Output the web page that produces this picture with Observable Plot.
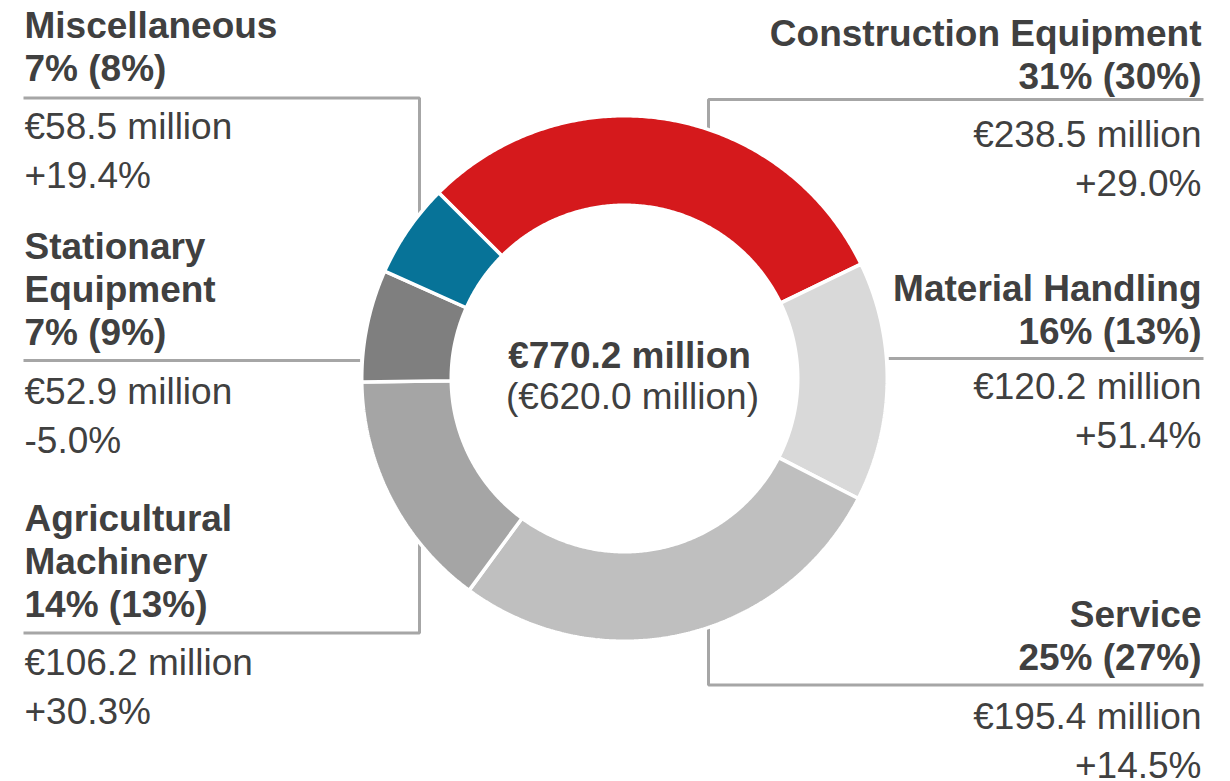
<!DOCTYPE html>
<html><head><meta charset="utf-8">
<script src="https://cdn.jsdelivr.net/npm/d3@7"></script>
<script src="https://cdn.jsdelivr.net/npm/@observablehq/plot@0.6"></script>
<style>html,body{margin:0;padding:0;background:#fff}</style>
</head><body><div id="chart"></div>
<script>
// ---- data ----
const categories = ["Construction Equipment","Material Handling","Service","Agricultural Machinery","Stationary Equipment","Miscellaneous"];
const labelLines = [["Construction Equipment"],["Material Handling"],["Service"],["Agricultural","Machinery"],["Stationary","Equipment"],["Miscellaneous"]];
const shareCurrent = [31,16,25,14,7,7];
const sharePrior = [30,13,27,13,9,8];
const revenue = [238.5,120.2,195.4,106.2,52.9,58.5];
const change = [29.0,51.4,14.5,30.3,-5.0,19.4];
const sliceShare = [30.3,14.7,27.5,14.7,6.9,5.8]; // ring share as drawn in the picture (%)
const totalCurrent = 770.2;
const totalPrior = 620.0;
const colors = ["#d5191c","#d9d9d9","#bfbfbf","#a5a5a5","#7f7f7f","#077398"];

// ---- layout ----
const W = 1230, H = 781;
const cx = 624, cy = 378, rOuter = 261, rInner = 175, gap = 3.5;
const leftX = 24, rightX = 1201;
const boldStep = 43, regStep = 49.5;
const layout = [
  {side:"right", bold0:45,  reg0:146, leader:{x:708, y:99}},
  {side:"right", bold0:300, reg0:398, leader:{y:358}},
  {side:"right", bold0:626, reg0:728, leader:{x:708, y:684.5}},
  {side:"left",  bold0:530, reg0:674, leader:{x:419, y:632.5}},
  {side:"left",  bold0:258, reg0:403, leader:{y:360}},
  {side:"left",  bold0:37,  reg0:138, leader:{x:419, y:97.5}}
];

// ---- slices ----
const pie = d3.pie().sort(null).startAngle(-Math.PI/4).endAngle(2*Math.PI - Math.PI/4);
const arcs = pie(sliceShare);
const ro = rOuter + gap/2, ri = rInner - gap/2;
const slicePts = [];
arcs.forEach((a, i) => {
  const n = Math.max(8, Math.ceil((a.endAngle - a.startAngle) / (Math.PI/360)));
  const pts = [];
  for (let k = 0; k <= n; k++) { const t = a.startAngle + (a.endAngle - a.startAngle) * k / n; pts.push([t, ro]); }
  for (let k = n; k >= 0; k--) { const t = a.startAngle + (a.endAngle - a.startAngle) * k / n; pts.push([t, ri]); }
  pts.push(pts[0]);
  pts.forEach(([t, r]) => slicePts.push({name: categories[i], x: cx + r*Math.sin(t), y: cy - r*Math.cos(t)}));
});

// ---- leader lines ----
const leaderPts = [];
layout.forEach((L, i) => {
  const {x, y} = L.leader;
  const edgeX = L.side === "left" ? leftX - 1 : rightX + 2;
  if (x !== undefined) {
    const ringY = cy + (y < cy ? -1 : 1) * Math.sqrt(rOuter*rOuter - (x-cx)*(x-cx));
    [[edgeX, y], [x, y], [x, ringY]].forEach(p => leaderPts.push({id:i, x:p[0], y:p[1]}));
  } else {
    const ringX = cx + (L.side === "left" ? -1 : 1) * (Math.sqrt(rOuter*rOuter - (y-cy)*(y-cy)) + 4);
    [[edgeX, y], [ringX, y]].forEach(p => leaderPts.push({id:i, x:p[0], y:p[1]}));
  }
});

// ---- labels ----
const fmt = d3.format(".1f");
const boldTexts = [], regTexts = [];
categories.forEach((c, i) => {
  const L = layout[i];
  const x = L.side === "left" ? leftX : rightX;
  const lines = [...labelLines[i], `${shareCurrent[i]}% (${sharePrior[i]}%)`];
  lines.forEach((t, k) => boldTexts.push({side:L.side, x, y:L.bold0 + k*boldStep, text:t}));
  regTexts.push({side:L.side, x, y:L.reg0, text:`€${fmt(revenue[i])} million`});
  regTexts.push({side:L.side, x, y:L.reg0 + regStep, text:(change[i] >= 0 ? "+" : "-") + fmt(Math.abs(change[i])) + "%"});
});
const centerTexts = [
  {x:629, y:367, text:`€${fmt(totalCurrent)} million`, bold:true},
  {x:632, y:408, text:`(€${fmt(totalPrior)} million)`, bold:false}
];

const textOpts = (side, weight) => ({x:"x", y:"y", text:"text", lineAnchor:"bottom", fontSize:37, fontWeight:weight,
  textAnchor: side === "left" ? "start" : side === "right" ? "end" : "middle"});

const chart = Plot.plot({
  width: W, height: H, margin: 0,
  x: {domain:[0, W], range:[0, W], axis:null},
  y: {domain:[0, H], range:[0, H], axis:null},
  color: {domain: categories, range: colors},
  style: {fontFamily:"'Liberation Sans', Arial, Helvetica, sans-serif", color:"#404040", background:"#fff", overflow:"visible"},
  marks: [
    Plot.line(leaderPts, {x:"x", y:"y", z:"id", stroke:"#a6a6a6", strokeWidth:3, strokeLinejoin:"miter", strokeLinecap:"butt"}),
    Plot.line(slicePts, {x:"x", y:"y", z:"name", fill:"name", stroke:"#fff", strokeWidth:gap, strokeLinejoin:"miter"}),
    Plot.text(boldTexts.filter(d => d.side === "left"), textOpts("left", "bold")),
    Plot.text(boldTexts.filter(d => d.side === "right"), textOpts("right", "bold")),
    Plot.text(regTexts.filter(d => d.side === "left"), textOpts("left", "normal")),
    Plot.text(regTexts.filter(d => d.side === "right"), textOpts("right", "normal")),
    Plot.text(centerTexts.filter(d => d.bold), textOpts("center", "bold")),
    Plot.text(centerTexts.filter(d => !d.bold), textOpts("center", "normal"))
  ]
});
document.getElementById("chart").appendChild(chart);
</script>
</body></html>
